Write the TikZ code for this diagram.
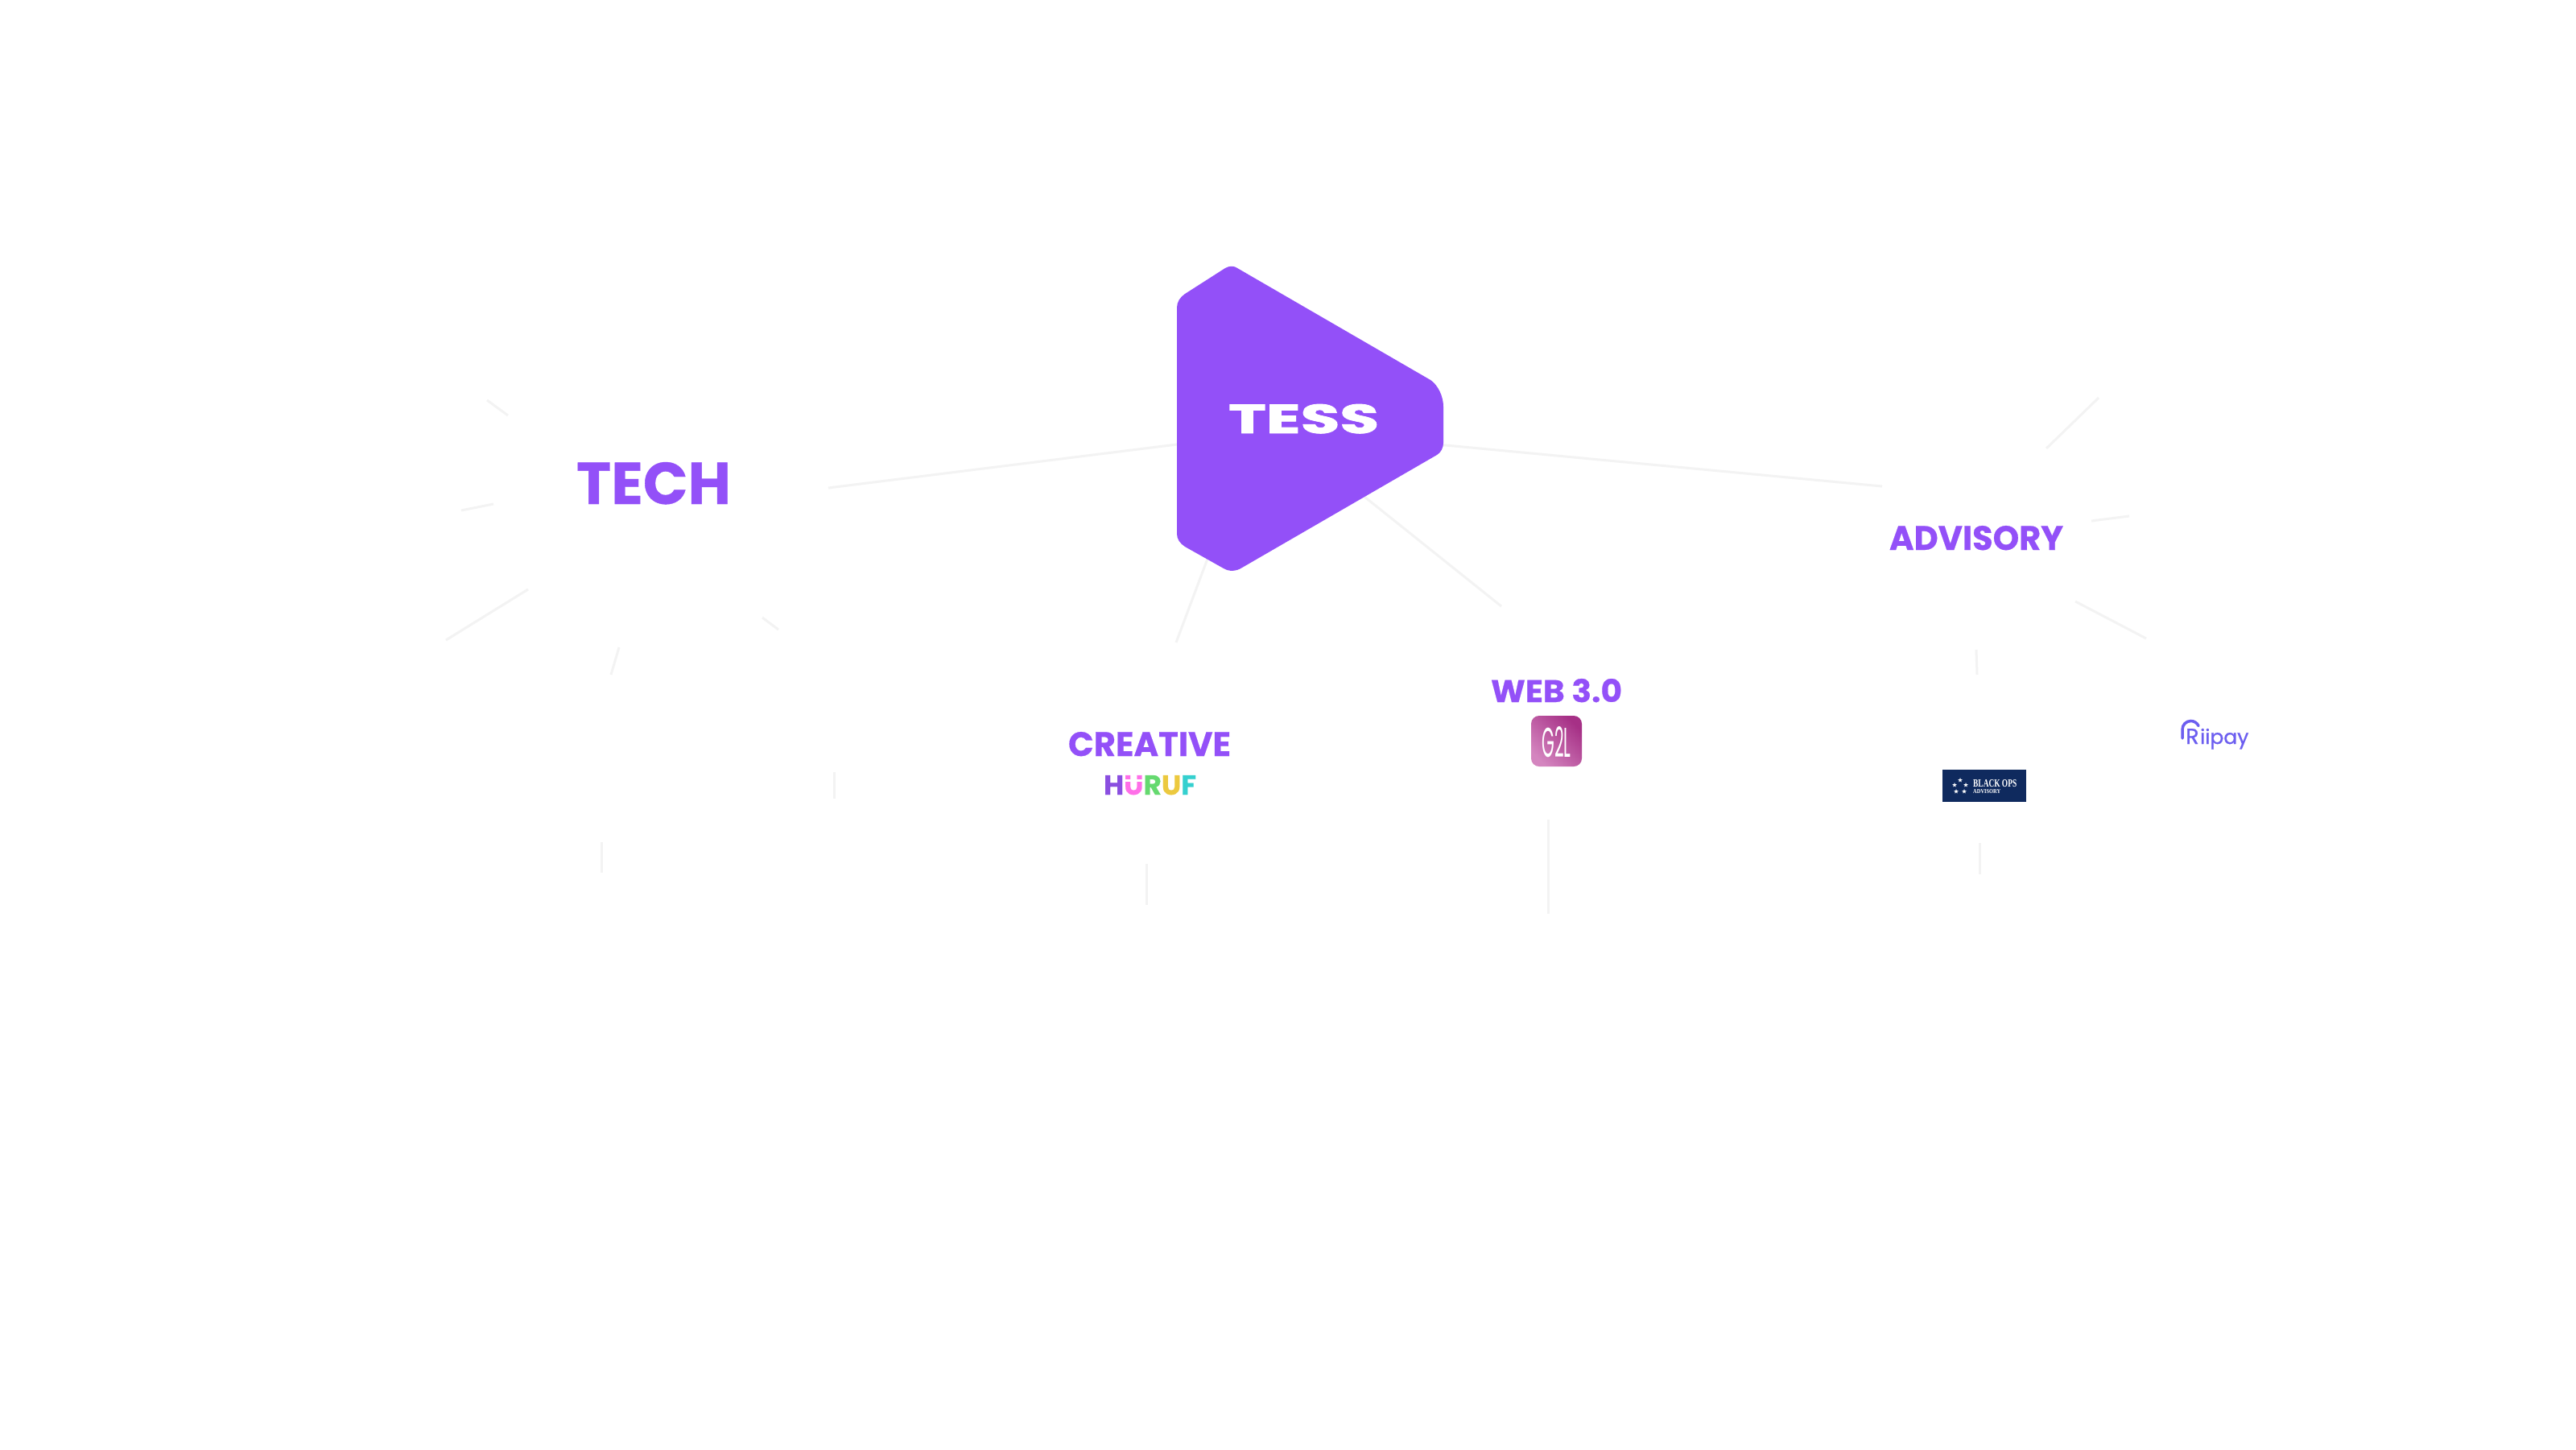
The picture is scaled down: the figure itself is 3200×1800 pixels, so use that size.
\documentclass[tikz,border=0pt]{standalone}
\usepackage{fontspec}
\usetikzlibrary{shapes.geometric}
\setmainfont{Poppins}
\newfontfamily\serifbold{Liberation Serif}
\definecolor{tesspurple}{HTML}{9350F8}
\definecolor{rayline}{HTML}{F3F3F3}
\definecolor{riicol}{HTML}{6C5EF0}
\definecolor{opsnavy}{HTML}{0F2A5E}
\definecolor{gtop}{HTML}{A63086}
\definecolor{gbot}{HTML}{D485BF}
\newcommand{\fitbox}[3]{\resizebox{#1pt}{#2pt}{#3}}
\tikzset{
  ray/.style={draw=rayline,line width=3pt},
  lab/.style={anchor=base west,inner sep=0pt,outer sep=0pt,font=\bfseries\addfontfeature{FakeBold=0.5}},
  opsstar/.style={star,star points=5,star point ratio=2.4,fill=white,inner sep=0pt,minimum size=6pt}
}
\begin{document}
\begin{tikzpicture}[x=1pt,y=-1pt]
\useasboundingbox (0,0) rectangle (3200,1800);
\fill[white] (0,0) rectangle (3200,1800);
% coordinates for the spokes
\coordinate (hubL) at (1470,551);
\coordinate (hubR) at (1785,552);
\coordinate (hubW) at (1685,609);
\coordinate (hubC) at (1503,686);
\coordinate (techIn) at (1029,606);
\coordinate (advIn) at (2338,604);
\coordinate (webIn) at (1865,753);
\coordinate (creIn) at (1461,798);
% spokes from hub
\draw[ray] (hubL) -- (techIn);
\draw[ray] (hubR) -- (advIn);
\draw[ray] (hubW) -- (webIn);
\draw[ray] (hubC) -- (creIn);
% tech rays
\coordinate (t1a) at (605,497); \coordinate (t1b) at (631,516);
\coordinate (t2a) at (573,634); \coordinate (t2b) at (613,626);
\coordinate (t3a) at (554,795); \coordinate (t3b) at (656,732);
\coordinate (t4a) at (947,767); \coordinate (t4b) at (967,782);
\coordinate (t5a) at (769,804); \coordinate (t5b) at (759,838);
\coordinate (t6a) at (1036,959); \coordinate (t6b) at (1036,992);
\coordinate (t7a) at (747,1046); \coordinate (t7b) at (747,1084);
\draw[ray] (t1a) -- (t1b);
\draw[ray] (t2a) -- (t2b);
\draw[ray] (t3a) -- (t3b);
\draw[ray] (t4a) -- (t4b);
\draw[ray] (t5a) -- (t5b);
\draw[ray] (t6a) -- (t6b);
\draw[ray] (t7a) -- (t7b);
% creative / web
\coordinate (c1a) at (1424,1073); \coordinate (c1b) at (1424,1124);
\coordinate (w1a) at (1923,1018); \coordinate (w1b) at (1923,1135);
\draw[ray] (c1a) -- (c1b);
\draw[ray] (w1a) -- (w1b);
% advisory rays
\coordinate (a1a) at (2542,557); \coordinate (a1b) at (2607,494);
\coordinate (a2a) at (2598,647); \coordinate (a2b) at (2645,641);
\coordinate (a3a) at (2578,747); \coordinate (a3b) at (2666,793);
\coordinate (a4a) at (2455,807); \coordinate (a4b) at (2456,838);
\coordinate (a5a) at (2459,1047); \coordinate (a5b) at (2459,1086);
\draw[ray] (a1a) -- (a1b);
\draw[ray] (a2a) -- (a2b);
\draw[ray] (a3a) -- (a3b);
\draw[ray] (a4a) -- (a4b);
\draw[ray] (a5a) -- (a5b);
% hub
\fill[tesspurple] (1462,382) .. controls (1462,375) and (1466,369) .. (1472,365)
  -- (1522,333) .. controls (1527,330) and (1533,330) .. (1537,333)
  -- (1777,472) .. controls (1786,478) and (1793,492) .. (1793,505)
  -- (1793,550) .. controls (1793,556) and (1790,562) .. (1785,565)
  -- (1543,705) .. controls (1535,710) and (1527,710) .. (1520,706)
  -- (1472,679) .. controls (1466,675) and (1462,670) .. (1462,663) -- cycle;
\node[lab,font=\bfseries\addfontfeature{FakeBold=1.6},text=white] (tess) at (1526,538) {\fitbox{187}{36}{TESS}};
% labels
\node[lab,text=tesspurple] (tech) at (716,626) {\fitbox{192}{52}{TECH}};
\node[lab,text=tesspurple] (advisory) at (2347,683) {\fitbox{216}{30}{ADVISORY}};
\node[lab,text=tesspurple] (creative) at (1327,939) {\fitbox{202}{30}{CREATIVE}};
\node[lab,text=tesspurple] (web) at (1852,872) {\fitbox{163}{29}{WEB 3.0}};
% huruf
\node[lab] (huruf) at (1371,987) {\fitbox{115}{24}{\textcolor[HTML]{8A4FE0}{H}\textcolor[HTML]{FF6FE8}{U}\textcolor[HTML]{65D96F}{R}\textcolor[HTML]{ECC93F}{U}\textcolor[HTML]{35D0CF}{F}}};
\fill[white] (1395,968) rectangle (1419,970.5);
% g2l
\shade[bottom color=gbot,top color=gtop,shading=axis,shading angle=-45,rounded corners=10pt] (1902,889) rectangle (1965,952);
\node[anchor=center,inner sep=0pt,text=white] (g2l) at (1933.5,921.5) {\fitbox{36}{38}{G2L}};
% black ops
\node[fill=opsnavy,inner sep=0pt,minimum width=104pt,minimum height=40pt] (ops) at (2465,976) {};
\node[opsstar] (s1) at (2435,969) {};
\node[opsstar] (s2) at (2428,975) {};
\node[opsstar] (s3) at (2442,975) {};
\node[opsstar] (s4) at (2430,983) {};
\node[opsstar] (s5) at (2440,983) {};
\node[anchor=base west,inner sep=0pt,text=white] (opsa) at (2451,977) {\serifbold\bfseries\fitbox{54}{9}{BLACK OPS}};
\node[anchor=base west,inner sep=0pt,text=white] (opsb) at (2451,985) {\serifbold\bfseries\fitbox{34}{5}{ADVISORY}};
% riipay
\node[anchor=base west,inner sep=0pt,text=riicol,font={\addfontfeature{FakeBold=1}\fontsize{25}{25}\selectfont}] (rii) at (2715,924) {\raisebox{0pt}{\fontsize{27}{27}\selectfont R}\hspace{1.5pt}iipay};
\coordinate (ra) at (2711,917);
\coordinate (rb) at (2711,906);
\draw[riicol,line width=3.5pt,line cap=round] (ra) -- (rb) arc[start angle=180,end angle=25,radius=10.5pt];
\end{tikzpicture}
\end{document}
